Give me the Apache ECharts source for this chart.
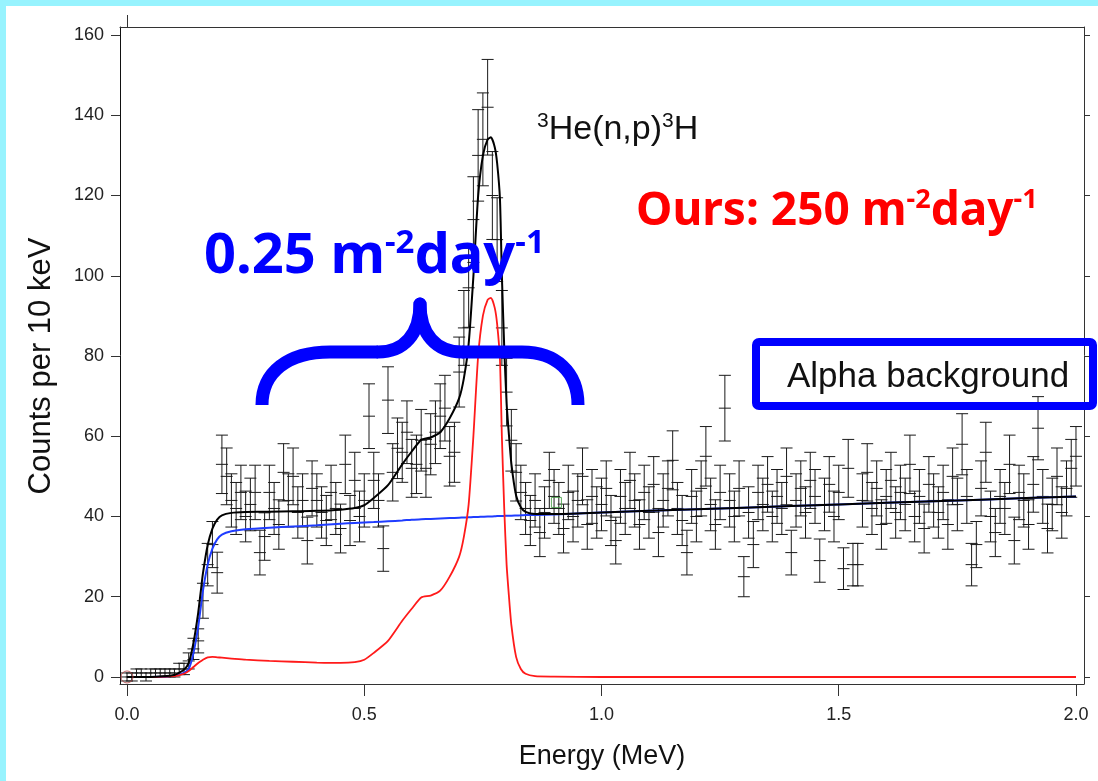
<!DOCTYPE html>
<html><head><meta charset="utf-8">
<script src="https://cdn.jsdelivr.net/npm/echarts@6/dist/echarts.min.js"></script>
<style>html,body{margin:0;padding:0;background:#fff;}#c{width:1098px;height:781px;}</style>
</head><body><div id="c"></div>
<script>
// ---- data ----
const binWidth = 0.01; // MeV, bins start at 0.00
const counts = [
  0,0,1,1,0,1,1,1,1,1,
  1,2,2,4,7,9,19,28,33,26,
  53,50,44,42,46,40,43,46,31,35,
  46,42,38,51,44,50,41,44,34,47,
  44,41,39,46,42,37,53,39,49,40,
  44,65,49,44,32,69,51,57,56,61,
  52,53,59,52,58,61,65,67,55,56,
  76,87,97,114,130,134,142,120,109,87,
  71,59,51,46,42,39,44,36,41,49,
  45,42,37,46,40,44,50,38,45,41,
  43,47,39,34,45,42,49,44,38,46,
  41,48,36,44,47,54,42,39,31,45,
  40,47,55,43,38,46,67,44,40,47,
  25,41,33,46,43,48,40,45,42,50,
  31,44,47,41,49,45,29,43,48,40,
  46,27,52,28,28,44,51,42,47,38,
  45,49,41,46,43,53,40,45,37,48,
  44,41,46,38,50,43,58,45,28,33,
  47,56,40,36,45,42,53,34,46,44,
  38,48,62,45,37,43,50,41,47,52,
  55
];
const fitE = [0,0.05,0.10,0.12,0.13,0.14,0.15,0.155,0.16,0.17,
  0.18,0.19,0.20,0.22,0.25,0.30,0.35,0.40,0.45,0.48,
  0.50,0.52,0.55,0.58,0.60,0.62,0.64,0.66,0.68,0.70,
  0.71,0.72,0.73,0.74,0.75,0.76,0.767,0.775,0.78,0.786,
  0.79,0.795,0.80,0.805,0.81,0.82,0.83,0.84,0.86,0.90,
  1.0,1.2,1.4,1.6,1.8,2.0];
const signalFit = [0,0,0.2,0.8,1.5,2.5,3.5,3.9,4.3,4.9,
  5.0,4.9,4.8,4.6,4.3,4.0,3.8,3.6,3.5,3.7,
  4.3,6.0,9.0,14,17,19.8,20.3,21.5,25,30,
  35,43,60,80,90,94,94.5,92,88,79,
  60,42,28,20,13,5,2,0.8,0.2,0.1,
  0,0,0,0,0,0];
const alphaFit = [0,0,0.3,1,2,6,12.5,17,21.5,28,
  32,34.3,35.5,36.3,36.8,37.2,37.5,37.8,38.2,38.4,
  38.5,38.6,38.8,39.0,39.2,39.3,39.4,39.5,39.6,39.7,
  39.75,39.8,39.85,39.9,39.95,40.0,40.0,40.05,40.1,40.1,
  40.1,40.15,40.2,40.2,40.2,40.25,40.3,40.35,40.4,40.5,
  41.0,41.8,42.6,43.4,44.2,45.0];
const totalFit = [0,0,0.5,1.8,3.5,8.5,16,20.9,25.8,32.9,
  37,39.2,40.3,40.9,41.1,41.2,41.3,41.4,41.7,42.1,
  42.8,44.6,47.8,53,56.2,59.1,59.7,61.0,64.5,69.5,
  74.5,83,99.85,119.9,129.95,134,134.5,132.05,128.1,119.1,
  100.1,82.15,68.2,60.2,53.2,45.25,42.3,41.15,40.6,40.6,
  41.0,41.8,42.6,43.4,44.2,45.0];
const xTicks = [0, 0.5, 1.0, 1.5, 2.0];
const yTicks = [0, 20, 40, 60, 80, 100, 120, 140, 160];
const markerCircle = [[0, 0]];
const markerSquare = [[0.905, 43.5]];

// ---- chart ----
const chart = echarts.init(document.getElementById('c'), null, {renderer:'canvas'});
const F = 'Liberation Sans';
const ebData = counts.map((v, i) => [i * binWidth, v, Math.sqrt(Math.max(v, 1))]);
const axisCol = '#333';
const xRange = {min: -0.0148, max: 2.0169};
const yRange = {min: -1.75, max: 162};
const braceStyle = {stroke: '#0000ff', lineWidth: 13, fill: null, lineCap: 'butt'};
const braceRound = {stroke: '#0000ff', lineWidth: 13, fill: null, lineCap: 'round'};

const option = {
  animation: false,
  backgroundColor: '#fff',
  grid: {left: 120, right: 14, top: 27, bottom: 97, show: false},
  xAxis: [
    Object.assign({type: 'value', position: 'bottom',
      axisLine: {show: true, onZero: false, lineStyle: {color: axisCol, width: 1}},
      axisTick: {show: true, customValues: xTicks, length: 12, lineStyle: {color: axisCol}},
      axisLabel: {customValues: xTicks, formatter: v => v.toFixed(1), fontFamily: F, fontSize: 18, color: '#222', margin: 22},
      splitLine: {show: false},
      name: 'Energy (MeV)', nameLocation: 'middle', nameGap: 59,
      nameTextStyle: {fontFamily: F, fontSize: 27, color: '#111'}
    }, xRange),
    Object.assign({type: 'value', position: 'top',
      axisLine: {show: true, onZero: false, lineStyle: {color: axisCol, width: 1}},
      axisTick: {show: true, customValues: [0], length: 12, lineStyle: {color: axisCol}},
      axisLabel: {show: false}, splitLine: {show: false}
    }, xRange)
  ],
  yAxis: [
    Object.assign({type: 'value', position: 'left',
      axisLine: {show: true, onZero: false, lineStyle: {color: '#111', width: 1}},
      axisTick: {show: true, customValues: yTicks, length: 9, lineStyle: {color: axisCol}},
      axisLabel: {customValues: yTicks, fontFamily: F, fontSize: 18, color: '#222', margin: 16},
      splitLine: {show: false}
    }, yRange),
    Object.assign({type: 'value', position: 'right',
      axisLine: {show: true, onZero: false, lineStyle: {color: axisCol, width: 1}},
      axisTick: {show: true, customValues: yTicks, length: 6, lineStyle: {color: axisCol}},
      axisLabel: {show: false}, splitLine: {show: false}
    }, yRange)
  ],
  series: [
    {
      type: 'custom', xAxisIndex: 0, yAxisIndex: 0, data: ebData, clip: false,
      encode: {x: 0, y: 1},
      renderItem: function (params, api) {
        const e = api.value(0), v = api.value(1), err = api.value(2);
        const c = api.coord([e, v]);
        const lo = api.coord([e, v - err]);
        const hi = api.coord([e, v + err]);
        const hw = 6;
        const st = {stroke: '#1a1a1a', lineWidth: 1};
        return {type: 'group', children: [
          {type: 'line', shape: {x1: c[0], y1: lo[1], x2: c[0], y2: hi[1]}, style: st},
          {type: 'line', shape: {x1: c[0] - hw, y1: lo[1], x2: c[0] + hw, y2: lo[1]}, style: st},
          {type: 'line', shape: {x1: c[0] - hw, y1: hi[1], x2: c[0] + hw, y2: hi[1]}, style: st},
          {type: 'line', shape: {x1: c[0] - hw, y1: c[1], x2: c[0] + hw, y2: c[1]}, style: st}
        ]};
      },
      z: 2
    },
    {type: 'line', data: fitE.map((e, k) => [e, alphaFit[k]]), showSymbol: false, smooth: 0.2,
      lineStyle: {color: '#1f3cff', width: 2}, z: 3},
    {type: 'line', data: fitE.map((e, k) => [e, signalFit[k]]), showSymbol: false, smooth: 0.2,
      lineStyle: {color: '#ff1a1a', width: 1.8}, z: 4},
    {type: 'line', data: fitE.map((e, k) => [e, totalFit[k]]), showSymbol: false, smooth: 0.2,
      lineStyle: {color: '#000', width: 2}, z: 5},
    {type: 'scatter', data: markerCircle, symbol: 'circle', symbolSize: 12,
      itemStyle: {color: 'rgba(0,0,0,0)', borderColor: '#b04040', borderWidth: 1}, z: 6},
    {type: 'scatter', data: markerSquare, symbol: 'rect', symbolSize: 10,
      itemStyle: {color: 'rgba(0,0,0,0)', borderColor: '#3c9a3c', borderWidth: 1}, z: 6}
  ],
  graphic: [
    {type: 'rect', shape: {x: 0, y: 0, width: 1098, height: 6}, style: {fill: '#97f3fe'}, z: 100},
    {type: 'rect', shape: {x: 0, y: 0, width: 6, height: 781}, style: {fill: '#97f3fe'}, z: 100},
    {type: 'text', x: 41, y: 366, rotation: Math.PI / 2, style: {text: 'Counts per 10 keV', fontFamily: F, fontSize: 31,
      fill: '#111', align: 'center', verticalAlign: 'middle'}, z: 101},
    {type: 'bezierCurve', shape: {x1: 262, y1: 405, cpx1: 262, cpy1: 372, cpx2: 288, cpy2: 352, x2: 330, y2: 352}, style: braceStyle, z: 100},
    {type: 'line', shape: {x1: 330, y1: 352, x2: 378, y2: 352}, style: braceStyle, z: 100},
    {type: 'bezierCurve', shape: {x1: 378, y1: 352, cpx1: 404, cpy1: 352, cpx2: 420, cpy2: 334, x2: 420, y2: 304}, style: braceRound, z: 100},
    {type: 'bezierCurve', shape: {x1: 420, y1: 304, cpx1: 420, cpy1: 334, cpx2: 436, cpy2: 352, x2: 462, y2: 352}, style: braceRound, z: 100},
    {type: 'line', shape: {x1: 462, y1: 352, x2: 522, y2: 352}, style: braceStyle, z: 100},
    {type: 'bezierCurve', shape: {x1: 522, y1: 352, cpx1: 556, cpy1: 352, cpx2: 578, cpy2: 372, x2: 578, y2: 405}, style: braceStyle, z: 100},
    {type: 'rect', shape: {x: 756, y: 342, width: 337, height: 64, r: 3},
      style: {stroke: '#0000ff', lineWidth: 8, fill: 'rgba(0,0,0,0)'}, z: 100},
    {type: 'text', x: 787, y: 377, style: {text: 'Alpha background', fontFamily: F, fontSize: 35, fill: '#111',
      align: 'left', verticalAlign: 'middle'}, z: 101},
    {type: 'text', left: 537, top: 111, style: {text: '{s|3}{a|He(n,p)}{s|3}{a|H}',
      rich: {a: {fontFamily: F, fontSize: 34, lineHeight: 38, fill: '#111'},
             s: {fontFamily: F, fontSize: 21, lineHeight: 21, verticalAlign: 'top', fill: '#111'}}}, z: 101},
    {type: 'text', left: 636, top: 187, style: {text: '{a|Ours: 250 m}{s|-2}{a|day}{s|-1}',
      rich: {a: {fontFamily: 'Noto Sans', fontWeight: 'bold', fontSize: 46, lineHeight: 50, fill: '#ff0000'},
             s: {fontFamily: 'Noto Sans', fontWeight: 'bold', fontSize: 27, lineHeight: 27, verticalAlign: 'top', fill: '#ff0000'}}}, z: 101},
    {type: 'text', left: 204, top: 227, style: {text: '{a|0.25 m}{s|-2}{a|day}{s|-1}',
      rich: {a: {fontFamily: 'Noto Sans', fontWeight: 'bold', fontSize: 56, lineHeight: 60, fill: '#0000ff'},
             s: {fontFamily: 'Noto Sans', fontWeight: 'bold', fontSize: 33, lineHeight: 33, verticalAlign: 'top', fill: '#0000ff'}}}, z: 101}
  ]
};
chart.setOption(option);
</script>
</body></html>
